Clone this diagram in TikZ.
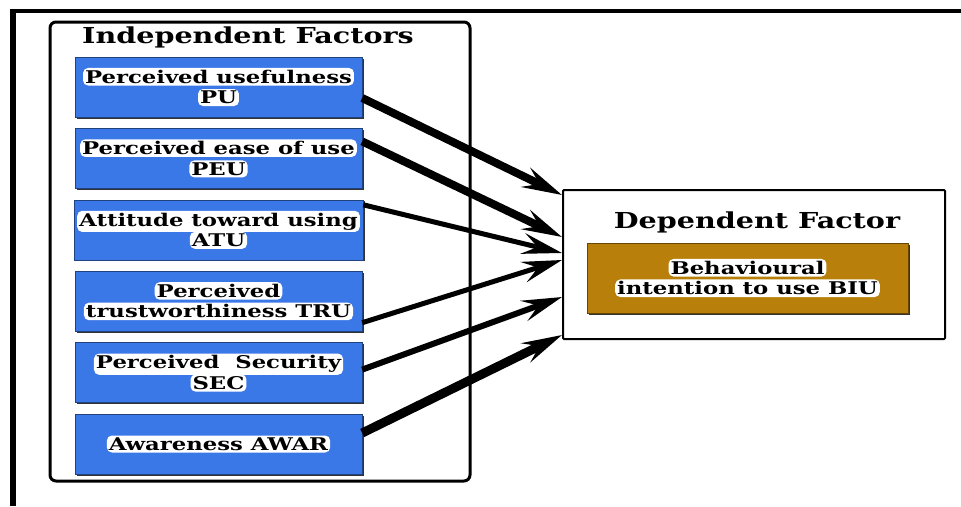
\documentclass[tikz,border=0pt]{standalone}
\usepackage{fontspec}
\setmainfont{DejaVu Serif}[FakeStretch=1.3]
\usetikzlibrary{positioning,arrows.meta,shadows}

\definecolor{factorblue}{RGB}{59,120,231}
\definecolor{targetbrown}{RGB}{184,128,10}
\newcommand{\tightlines}{\lineskiplimit=-30pt\relax}

\tikzset{
  halo/.style={shape=rectangle,draw=none,fill=white,text=black,
    rounded corners=5pt,inner sep=2pt,minimum width=0pt,minimum height=0pt},
  factor/.style={rectangle,fill=factorblue,draw=factorblue!55!black,
    minimum width=287pt,minimum height=60pt,align=center,
    font=\bfseries\fontsize{17.5}{20.5}\selectfont\tightlines,
    drop shadow={shadow xshift=1.5pt,shadow yshift=-1.5pt,fill=black!80,opacity=1}},
  target/.style={factor,fill=targetbrown,draw=targetbrown!55!black,
    minimum width=321pt,minimum height=70pt},
  group/.style={rectangle,draw,line width=3pt,rounded corners=6pt},
  title/.style={font=\bfseries\fontsize{22}{24}\selectfont},
  link/.style={draw,-{Stealth[length=40pt,width=21pt,inset=15pt]}}
}
\newcommand{\halo}[1]{\tikz[baseline=(h.base)]\node[halo] (h) {#1};}

\begin{document}
\begin{tikzpicture}[x=1pt,y=-1pt,node distance=11pt]
\useasboundingbox (0,0) rectangle (961,506);
\draw[line width=6pt] (13,506) -- (13,11);
\draw[line width=3.5pt] (10,11) -- (961,11);

% independent side
\node [group,minimum width=420pt,minimum height=459pt] (indep) at (260,251.5) {};
\node [title] (indtitle) at (248,37) {Independent Factors};
\node [factor] (pu) at (218.5,87) {\halo{Perceived usefulness}\\\halo{PU}};
\node [factor] (peu) [below=of pu] {\halo{Perceived ease of use}\\\halo{PEU}};
\node [factor] (atu) [below=of peu] {\halo{Attitude toward using}\\\halo{ATU}};
\node [factor] (tru) [below=of atu] {\halo{Perceived}\\\halo{trustworthiness TRU}};
\node [factor] (sec) [below=of tru] {\halo{Perceived\ \ Security}\\\halo{SEC}};
\node [factor] (awar) [below=of sec] {\halo{Awareness AWAR}};

% dependent side
\node [group,line width=2pt,rounded corners=1pt,minimum width=382pt,minimum height=149pt] (dep) at (754,264.5) {};
\node [title] (deptitle) at (757,222) {Dependent Factor};
\node [target] (biu) at (747.5,278) {\halo{Behavioural}\\\halo{intention to use BIU}};

% arrows
\draw [link,line width=8pt] ([yshift=-11pt]pu.east) -- ([yshift=69.5pt]dep.west);
\draw [link,line width=8pt] ([yshift=17pt]peu.east) -- ([yshift=27.5pt]dep.west);
\draw [link,line width=5pt] ([yshift=25pt]atu.east) -- ([yshift=11.5pt]dep.west);
\draw [link,line width=5pt] ([yshift=-21.5pt]tru.east) -- ([yshift=4.5pt]dep.west);
\draw [link,line width=6pt] ([yshift=3pt]sec.east) -- ([yshift=-32.5pt]dep.west);
\draw [link,line width=9pt] ([yshift=11pt]awar.east) -- ([yshift=-70.5pt]dep.west);
\end{tikzpicture}
\end{document}
